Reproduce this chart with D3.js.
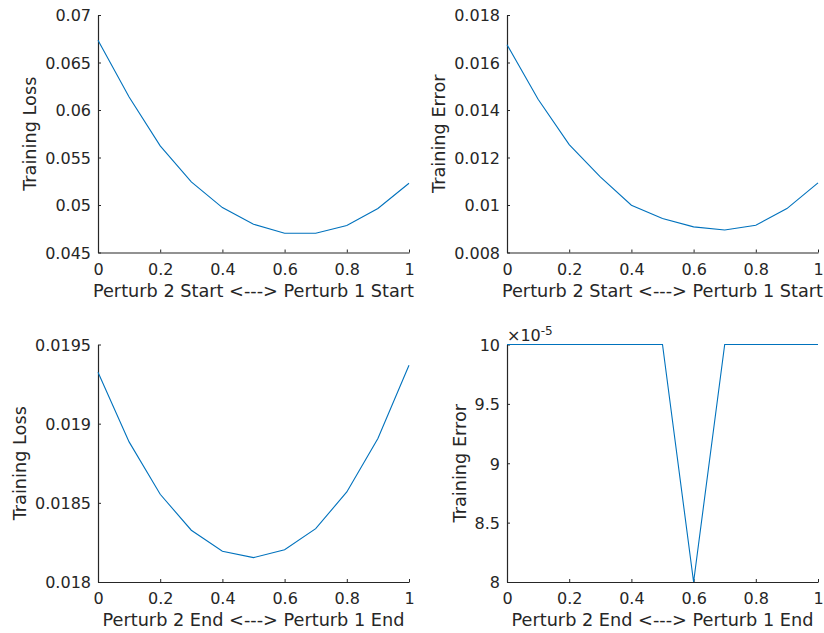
<!DOCTYPE html>
<html>
<head>
<meta charset="utf-8">
<script src="https://cdn.jsdelivr.net/npm/d3@7"></script>
<style>
  html, body { margin: 0; padding: 0; background: #fff; }
  svg { display: block; }
  text { font-family: "DejaVu Sans", sans-serif; fill: #262626; }
</style>
</head>
<body>
<svg id="chart" width="824" height="633"></svg>
<script>
// ---- data ----
const xValues = [0, 0.1, 0.2, 0.3, 0.4, 0.5, 0.6, 0.7, 0.8, 0.9, 1];
const startLoss = [0.06734, 0.06137, 0.05622, 0.05243, 0.04973, 0.04798, 0.04703, 0.04703, 0.04784, 0.04963, 0.05229];
const startError = [0.01675, 0.01445, 0.01254, 0.01118, 0.00999, 0.00943, 0.00908, 0.00895, 0.00915, 0.00985, 0.01093];
const endLoss = [0.019325, 0.018885, 0.018554, 0.018327, 0.018194, 0.018154, 0.018204, 0.018337, 0.018569, 0.018906, 0.019369];
const endError = [10e-5, 10e-5, 10e-5, 10e-5, 10e-5, 10e-5, 8e-5, 10e-5, 10e-5, 10e-5, 10e-5];

const xTicks = [0, 0.2, 0.4, 0.6, 0.8, 1];
const xTickLabels = ["0", "0.2", "0.4", "0.6", "0.8", "1"];
const yTicks1 = [0.045, 0.05, 0.055, 0.06, 0.065, 0.07];
const yTickLabels1 = ["0.045", "0.05", "0.055", "0.06", "0.065", "0.07"];
const yTicks2 = [0.008, 0.01, 0.012, 0.014, 0.016, 0.018];
const yTickLabels2 = ["0.008", "0.01", "0.012", "0.014", "0.016", "0.018"];
const yTicks3 = [0.018, 0.0185, 0.019, 0.0195];
const yTickLabels3 = ["0.018", "0.0185", "0.019", "0.0195"];
const yTicks4 = [8e-5, 8.5e-5, 9e-5, 9.5e-5, 10e-5];
const yTickLabels4 = ["8", "8.5", "9", "9.5", "10"];

const TICK_FS = 16;
const LABEL_FS = 17.7;

const panels = [
  { values: startLoss, yDomain: [0.045, 0.07], yTicks: yTicks1, yLabels: yTickLabels1,
    ylabel: "Training Loss", xlabel: "Perturb 2 Start <---> Perturb 1 Start",
    box: [98, 15, 409, 252.5], ylabelOff: 62 },
  { values: startError, yDomain: [0.008, 0.018], yTicks: yTicks2, yLabels: yTickLabels2,
    ylabel: "Training Error", xlabel: "Perturb 2 Start <---> Perturb 1 Start",
    box: [507, 15, 818, 252.5], ylabelOff: 62 },
  { values: endLoss, yDomain: [0.018, 0.0195], yTicks: yTicks3, yLabels: yTickLabels3,
    ylabel: "Training Loss", xlabel: "Perturb 2 End <---> Perturb 1 End",
    box: [98, 344.5, 409, 582], ylabelOff: 72 },
  { values: endError, yDomain: [8e-5, 10e-5], yTicks: yTicks4, yLabels: yTickLabels4,
    ylabel: "Training Error", xlabel: "Perturb 2 End <---> Perturb 1 End",
    box: [507, 344.5, 818, 582], ylabelOff: 41.5, exponent: true }
];

const svg = d3.select("#chart");
const axisColor = "#262626";
const lineColor = "#0072BD";

panels.forEach(p => {
  const [x0, y0, x1, y1] = p.box;
  const x = d3.scaleLinear().domain([0, 1]).range([x0, x1]);
  const y = d3.scaleLinear().domain(p.yDomain).range([y1, y0]);
  const g = svg.append("g");

  // x axis
  const xAxis = d3.axisBottom(x).tickValues(xTicks)
    .tickFormat((d, i) => xTickLabels[i]).tickSizeInner(-3).tickSizeOuter(0);
  const gx = g.append("g").attr("transform", `translate(0,${y1})`).call(xAxis);
  gx.select(".domain").attr("stroke", axisColor).attr("stroke-width", 1.2);
  gx.selectAll(".tick line").attr("stroke", axisColor);
  gx.selectAll(".tick text").attr("font-size", TICK_FS).attr("font-family", "DejaVu Sans")
    .attr("fill", axisColor).attr("dy", 0).attr("y", 22);

  // y axis
  const yAxis = d3.axisLeft(y).tickValues(p.yTicks)
    .tickFormat((d, i) => p.yLabels[i]).tickSizeInner(-3).tickSizeOuter(0);
  const gy = g.append("g").attr("transform", `translate(${x0},0)`).call(yAxis);
  gy.select(".domain").attr("stroke", axisColor).attr("stroke-width", 1.2);
  gy.selectAll(".tick line").attr("stroke", axisColor);
  gy.selectAll(".tick text").attr("font-size", TICK_FS).attr("font-family", "DejaVu Sans")
    .attr("fill", axisColor).attr("x", -7).attr("dy", "0.36em");

  // line
  const line = d3.line().x((d, i) => x(xValues[i])).y(d => y(d));
  g.append("path").datum(p.values).attr("d", line)
    .attr("fill", "none").attr("stroke", lineColor).attr("stroke-width", 1.1);

  // axis labels
  g.append("text").attr("x", (x0 + x1) / 2).attr("y", y1 + 44)
    .attr("text-anchor", "middle").attr("font-size", LABEL_FS).text(p.xlabel);
  g.append("text").attr("transform", `translate(${x0 - p.ylabelOff},${(y0 + y1) / 2}) rotate(-90)`)
    .attr("text-anchor", "middle").attr("font-size", LABEL_FS).text(p.ylabel);

  if (p.exponent) {
    const t = g.append("text").attr("x", x0).attr("y", y0 - 4).attr("font-size", TICK_FS);
    t.append("tspan").text("\u00d710");
    t.append("tspan").attr("dy", -6).attr("font-size", 12).text("-5");
  }
});
</script>
</body>
</html>
